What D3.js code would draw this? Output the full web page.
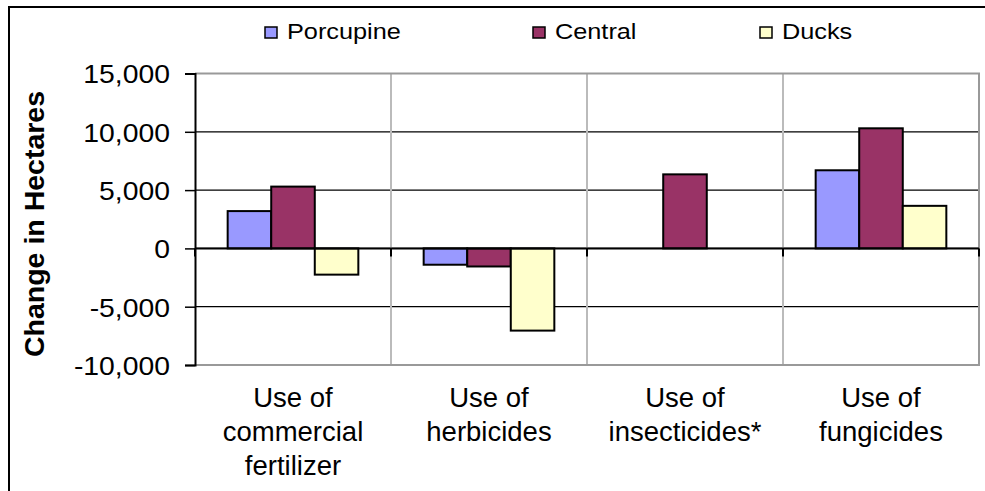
<!DOCTYPE html>
<html>
<head>
<meta charset="utf-8">
<script src="https://cdn.jsdelivr.net/npm/d3@7"></script>
<style>
    body { margin: 0; background: #fff; }
    svg text { font-family: "Liberation Sans", Arial, sans-serif; fill: #000; }
</style>
</head>
<body>
<svg id="chart_svg" width="985" height="491"></svg>
<script>
// data (hectares)
const g_categories = [["Use of", "commercial", "fertilizer"],
                      ["Use of", "herbicides"],
                      ["Use of", "insecticides*"],
                      ["Use of", "fungicides"]];
const g_series = ["Porcupine", "Central", "Ducks"];
const g_porcupine = [3200, -1400, 0, 6700];
const g_central = [5300, -1550, 6350, 10300];
const g_ducks = [-2250, -7050, 0, 3650];
const g_y_ticks = [-10000, -5000, 0, 5000, 10000, 15000];

const g_colors = ["#9999ff", "#993366", "#ffffcc"];
const g_plot = { x0: 195, x1: 979, y0: 73.5, y1: 365 }; // plot area in px
const g_stretch = 1.09; // text in the picture is a bit wider than plain Arial

let svg = d3.select("#chart_svg");
let values = [g_porcupine, g_central, g_ducks];
let cat_ids = g_categories.map((c, i) => i);
let fmt = d3.format(",");

// scales
let x0 = d3.scaleBand().domain(cat_ids).range([g_plot.x0, g_plot.x1]);
let x1 = d3.scaleBand().domain(g_series).range([0, x0.bandwidth()]).paddingOuter(0.75);
let y = d3.scaleLinear().domain([-10000, 15000]).range([g_plot.y1, g_plot.y0]);

// outer chart border (runs off the window on right and bottom)
svg.append("rect")
    .attr("x", 9).attr("y", 7).attr("width", 1000).attr("height", 500)
    .attr("style", "fill:none; stroke:#000; stroke-width:2");

// horizontal gridlines
svg.append("g").selectAll("line").data(g_y_ticks.slice(1, -1)).join("line")
    .attr("x1", g_plot.x0).attr("x2", g_plot.x1)
    .attr("y1", d => y(d)).attr("y2", d => y(d))
    .attr("style", "stroke:#000; stroke-width:1.2");

// vertical category dividers
svg.append("g").selectAll("line").data(cat_ids.slice(1)).join("line")
    .attr("x1", d => x0(d)).attr("x2", d => x0(d))
    .attr("y1", g_plot.y0).attr("y2", g_plot.y1)
    .attr("style", "stroke:#bbb; stroke-width:2");

// plot border: top, right, bottom in grey
svg.append("path")
    .attr("d", "M" + g_plot.x0 + "," + g_plot.y0 + "H" + g_plot.x1 + "V" + g_plot.y1 + "H" + g_plot.x0)
    .attr("style", "fill:none; stroke:#999; stroke-width:2");

// bars
let grp = svg.append("g").selectAll("g").data(g_series).join("g")
    .attr("fill", (d, i) => g_colors[i]);
grp.selectAll("rect").data((s, si) => values[si].map((v, ci) => ({ s: s, c: ci, v: v }))).join("rect")
    .attr("x", d => x0(d.c) + x1(d.s))
    .attr("y", d => y(Math.max(0, d.v)))
    .attr("width", x1.bandwidth())
    .attr("height", d => Math.abs(y(d.v) - y(0)))
    .attr("style", "stroke:#000; stroke-width:2");

// y axis
let y_axis = svg.append("g").attr("transform", "translate(" + g_plot.x0 + ",0)")
    .call(d3.axisLeft(y).tickValues(g_y_ticks).tickFormat(d => fmt(d).replace("\u2212", "-"))
        .tickSize(10).tickPadding(15));
y_axis.select(".domain").attr("stroke", "#000").attr("stroke-width", 2);
y_axis.selectAll(".tick line").attr("stroke", "#000").attr("stroke-width", 1.5);
y_axis.selectAll(".tick text").attr("font-size", 26).attr("font-family", null).attr("dy", "0.36em")
    .attr("x", -25 / g_stretch).attr("transform", "scale(" + g_stretch + ",1)");

// x axis on the zero line, ticks between categories
svg.append("line")
    .attr("x1", g_plot.x0).attr("x2", g_plot.x1).attr("y1", y(0)).attr("y2", y(0))
    .attr("style", "stroke:#000; stroke-width:2");
svg.append("g").selectAll("line").data(cat_ids.concat([cat_ids.length])).join("line")
    .attr("x1", d => g_plot.x0 + d * x0.step()).attr("x2", d => g_plot.x0 + d * x0.step())
    .attr("y1", y(0)).attr("y2", y(0) + 8)
    .attr("style", "stroke:#000; stroke-width:2");

// category labels below the plot
svg.append("g").selectAll("text").data(g_categories).join("text")
    .attr("x", (d, i) => x0(i) + x0.bandwidth() / 2).attr("y", 407)
    .attr("text-anchor", "middle").attr("font-size", 27.5)
    .selectAll("tspan").data(d => d).join("tspan")
    .attr("x", function () { return d3.select(this.parentNode).attr("x"); })
    .attr("dy", (d, i) => i == 0 ? 0 : 34)
    .text(d => d);

// y title
svg.append("text")
    .attr("transform", "translate(44,224) rotate(-90)")
    .attr("text-anchor", "middle").attr("font-size", 28.5).attr("font-weight", "bold")
    .text("Change in Hectares");

// legend
const legend_x = [265, 533, 760];
let leg = svg.append("g").selectAll("g").data(g_series).join("g")
    .attr("transform", (d, i) => "translate(" + legend_x[i] + ",27)");
leg.append("rect").attr("width", 12).attr("height", 11)
    .attr("fill", (d, i) => g_colors[i]).attr("style", "stroke:#000; stroke-width:1.5");
leg.append("text").attr("transform", "translate(22,12) scale(1.15,1)")
    .attr("font-size", 22).text(d => d);
</script>
</body>
</html>
